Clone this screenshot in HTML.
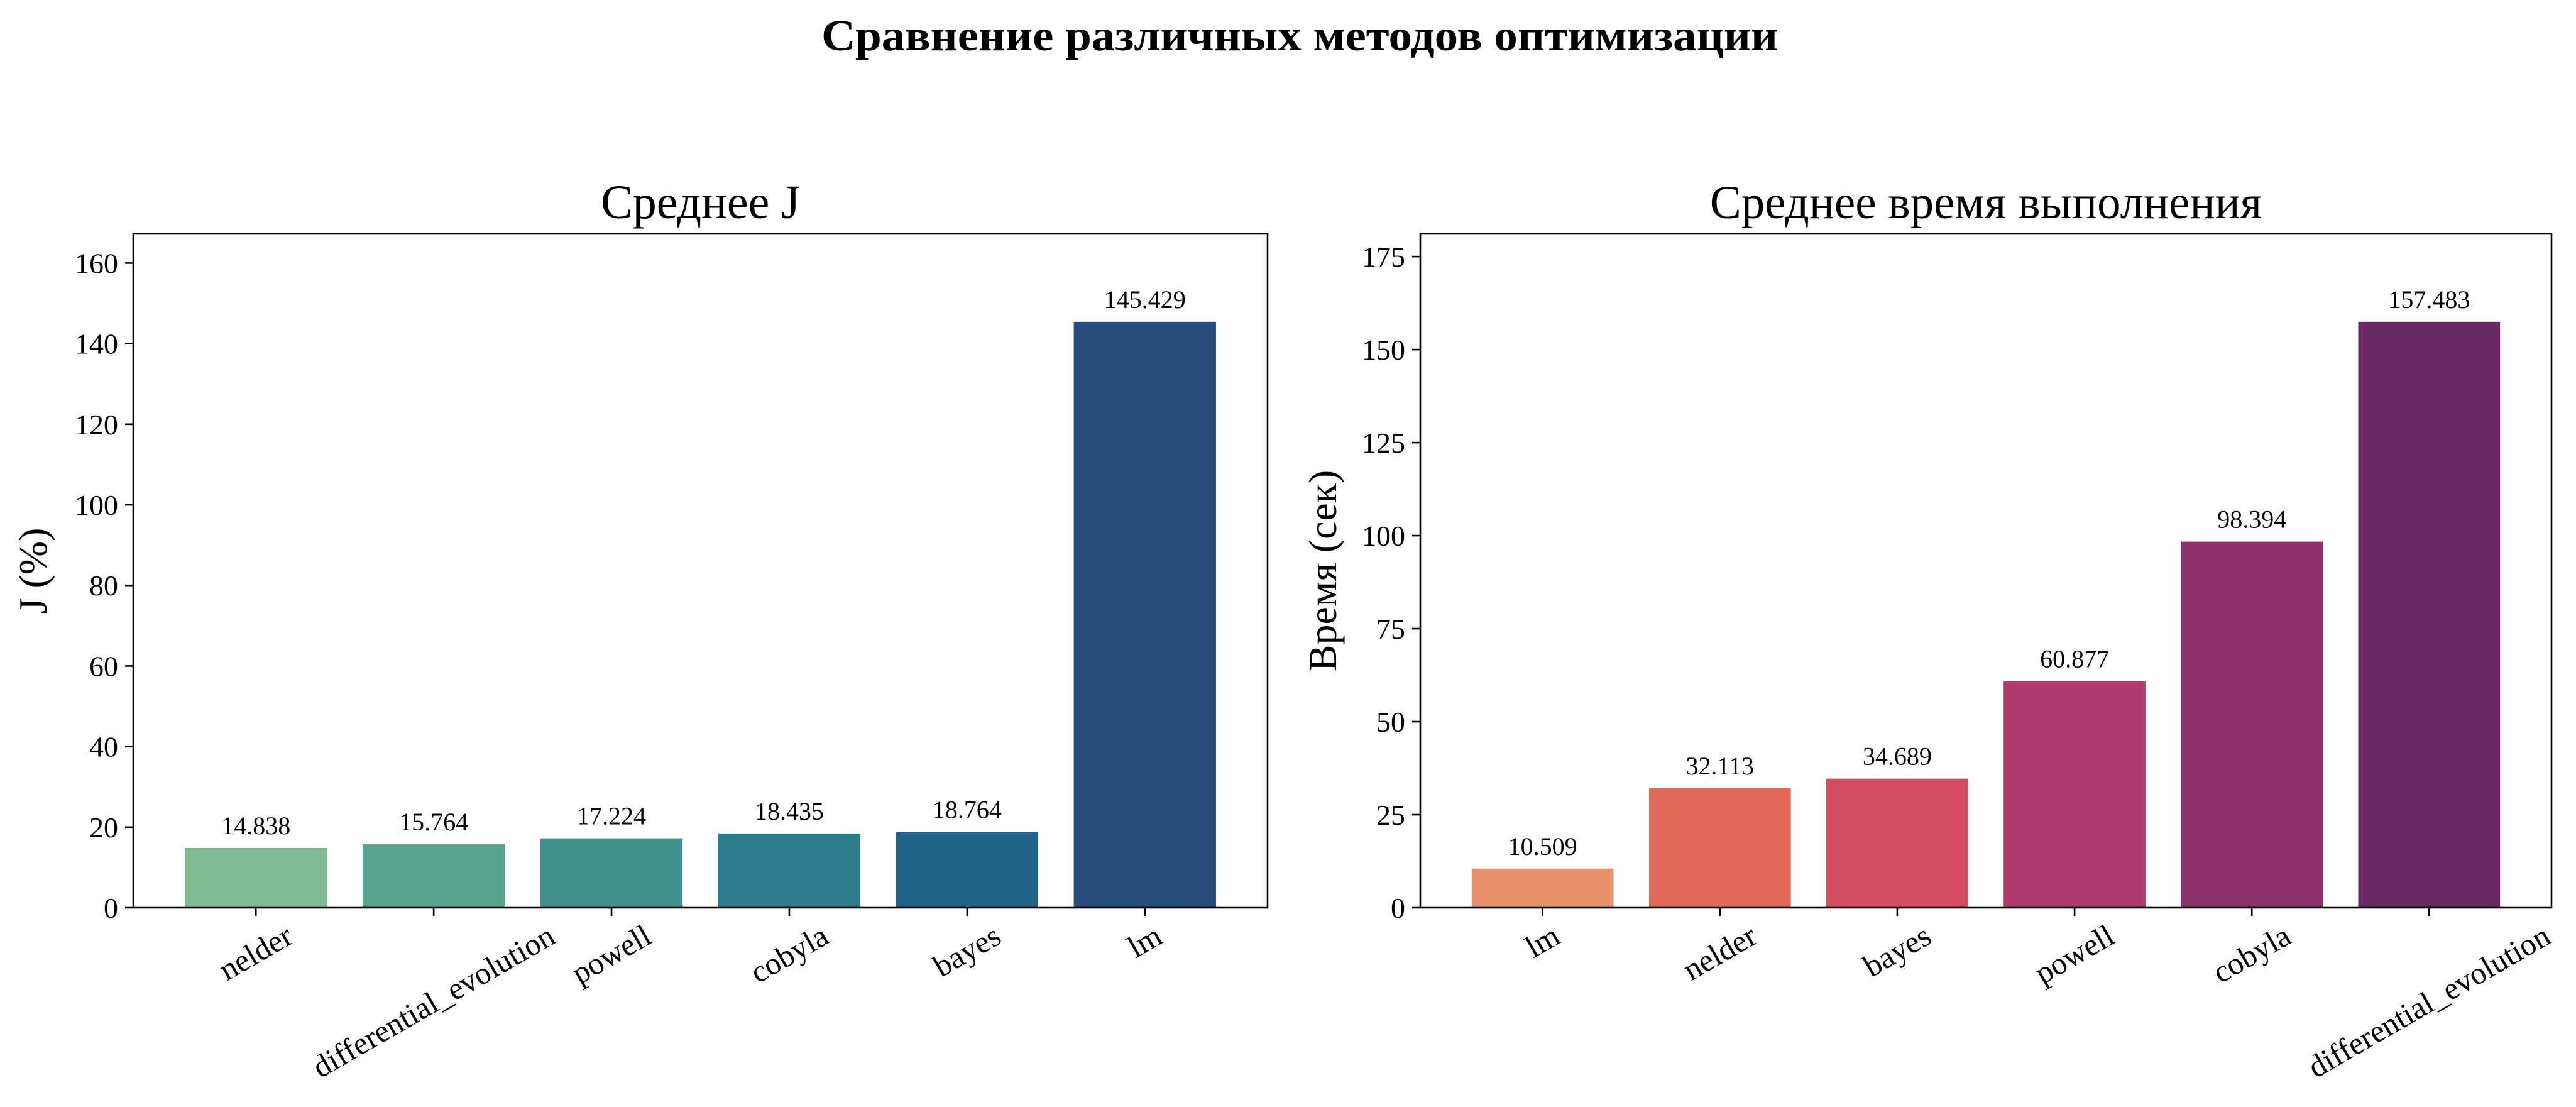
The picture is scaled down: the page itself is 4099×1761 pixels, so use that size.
<!DOCTYPE html>
<html><head><meta charset="utf-8">
<style>
html,body{margin:0;padding:0;background:#fff;}
svg{display:block;font-family:"Liberation Serif",serif;}
</style></head>
<body>
<svg id="fig" width="4099" height="1761" viewBox="0 0 4099 1761" xmlns="http://www.w3.org/2000/svg">
<rect width="4099" height="1761" fill="#fff"/>
<text x="2068" y="80" text-anchor="middle" font-size="70" font-weight="bold" textLength="1522" lengthAdjust="spacingAndGlyphs">Сравнение различных методов оптимизации</text>
<g id="left"></g>
<g id="right"></g>
</svg>
<script>
const leftCategories = ["nelder","differential_evolution","powell","cobyla","bayes","lm"];
const leftValues = [14.838,15.764,17.224,18.435,18.764,145.429];
const leftTicks = [0,20,40,60,80,100,120,140,160];
const leftColors = ["#7fba92","#5aa48f","#41908d","#2b7b8b","#1f6488","#274b7a"];
const rightCategories = ["lm","nelder","bayes","powell","cobyla","differential_evolution"];
const rightValues = [10.509,32.113,34.689,60.877,98.394,157.483];
const rightTicks = [0,25,50,75,100,125,150,175];
const rightColors = ["#e9906c","#e2695a","#d24b5e","#b03a68","#8c2f6b","#682a65"];
const NS="http://www.w3.org/2000/svg";
function mk(parent,tag,attrs,text){const e=document.createElementNS(NS,tag);for(const k in attrs)e.setAttribute(k,attrs[k]);if(text!==undefined)e.textContent=text;parent.appendChild(e);return e;}
function draw(g,cfg){
  const L=cfg.left,R=cfg.right,T=372,B=1444;
  const ymax=Math.max(...cfg.values)*1.15;
  const n=cfg.cats.length;
  const x0=-0.69,x1=n-1+0.69;
  const X=v=>L+(v-x0)/(x1-x0)*(R-L);
  const Y=v=>B-v/ymax*(B-T);
  cfg.values.forEach((v,i)=>{
    const r=mk(g,"rect",{x:X(i-0.4),y:Y(v),width:X(i+0.4)-X(i-0.4),height:B-Y(v),fill:cfg.colors[i]});
    
    
    const t=mk(g,"text",{x:X(i),y:Y(v)-22,"text-anchor":"middle","font-size":"40"},v.toFixed(3));
    
    
    const tk=mk(g,"line",{x1:X(i),x2:X(i),y1:B,y2:B+13,stroke:"#000","stroke-width":"2.6"});
    
    
    const lab=mk(g,"text",{"text-anchor":"middle","font-size":"50"},cfg.cats[i]);
    
    
    const len=lab.getComputedTextLength();
    const h=36;
    const bh=len*0.5+h*0.866;
    const cx=X(i),cy=B+13+12+bh/2;
    lab.setAttribute("transform","translate("+cx+","+cy+") rotate(-30)");
    lab.setAttribute("y",16);
  });
  cfg.ticks.forEach(v=>{
    const tk=mk(g,"line",{x1:L-13,x2:L,y1:Y(v),y2:Y(v),stroke:"#000","stroke-width":"2.6"});
    
    
    const t=mk(g,"text",{x:L-24,y:Y(v)+16,"text-anchor":"end","font-size":"46"},String(v));
    
    
  });
  const fr=mk(g,"rect",{x:L,y:T,width:R-L,height:B-T,fill:"none",stroke:"#000","stroke-width":"2.6"});
  
  
  const ti=mk(g,"text",{x:(L+R)/2,y:347,"text-anchor":"middle","font-size":cfg.tfs},cfg.title);
  
  
  const yl=mk(g,"text",{transform:"translate("+cfg.ylx+","+((T+B)/2)+") rotate(-90)","text-anchor":"middle","font-size":"64"},cfg.ylabel);
  
  
}
draw(document.getElementById("left"),{left:212,right:2017,cats:leftCategories,values:leftValues,ticks:leftTicks,colors:leftColors,title:"Среднее J",ylabel:"J (%)",ylx:74,tfs:"76"});
draw(document.getElementById("right"),{left:2260,right:4060,cats:rightCategories,values:rightValues,ticks:rightTicks,colors:rightColors,title:"Среднее время выполнения",ylabel:"Время (сек)",ylx:2126,tfs:"75"});
</script>
</body></html>
